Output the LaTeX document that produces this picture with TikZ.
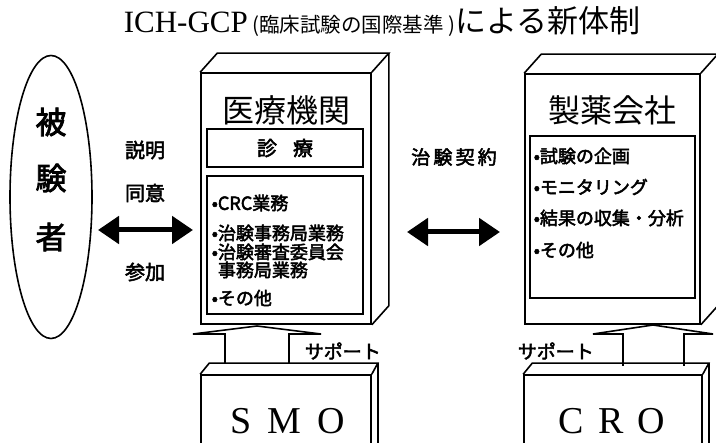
\documentclass[tikz,border=0pt]{standalone}
\usepackage{fontspec}
\setmainfont{Liberation Serif}
\newfontfamily\jp{Noto Sans CJK JP}[BoldFont={Noto Sans CJK JP}, BoldFeatures={FakeBold=2.6}]
\usetikzlibrary{shapes.geometric,arrows.meta,positioning,calc}

\begin{document}
\begin{tikzpicture}[x=1pt, y=-1pt, line width=1.6pt,
    every node/.style={inner sep=0pt},
    face/.style={draw, fill=white, rectangle},
    jpb/.style={font=\jp\bfseries\fontsize{#1}{#1}\selectfont},
    jpr/.style={font=\jp\fontsize{#1}{#1}\selectfont},
    dblarrow/.style={line width=5pt, {Triangle[length=21pt,width=27pt]}-{Triangle[length=21pt,width=27pt]}},
    support/.style={draw, fill=white, line join=miter}]
    \useasboundingbox (0,0) rectangle (716,443);
    \clip (0,0) rectangle (716,443);

    \node[anchor=base west] (title) at (123,33) {{\fontsize{31}{31}\selectfont ICH-GCP}{\jp\fontsize{20.5}{20.5}\selectfont\ (臨床試験の国際基準 )}{\jp\fontsize{31}{31}\selectfont による新体制}};

    \node[draw, ellipse, minimum width=82pt, minimum height=283pt] (subj) at (51,197) {};
    \foreach \y/\t in {122/被, 178/験, 237/者}
        \node[jpb=31] (subj\y) at (51,\y) {\t};
    \foreach \y/\t in {150/説明, 193/同意, 272/参加}
        \node[jpb=20] (lbl\y) at (145,\y) {\t};

    \node[face, minimum width=170pt, minimum height=251pt] (med) at (286,198.5) {};
    \draw (med.north west) -- ++(17,-19) -- ($(med.north east)+(17,-19)$) -- (med.north east);
    \draw ($(med.north east)+(17,-19)$) -- ($(med.south east)+(17,-19)$) -- (med.south east);
    \node[jpr=32] (medtitle) at (286,110) {医療機関};
    \node[face, minimum width=156pt, minimum height=38pt, jpb=20] (shin) at (285,148) {診\hspace{16pt}療};
    \node[face, minimum width=156pt, minimum height=138pt] (medlist) at (285,245) {};
    \foreach \y/\t in {203/•CRC業務, 233/•治験事務局業務, 252/•治験審査委員会, 270/\phantom{•}事務局業務, 298/•その他}
        \node[jpb=18, anchor=west] (m\y) at (211,\y) {\t};

    \node[face, minimum width=175pt, minimum height=250pt] (pha) at (612.5,199) {};
    \draw (pha.north west) -- ++(17,-19) -- ($(pha.north east)+(17,-19)$) -- (pha.north east);
    \draw ($(pha.north east)+(17,-19)$) -- ($(pha.south east)+(17,-19)$) -- (pha.south east);
    \node[jpr=32] (phatitle) at (612,110) {製薬会社};
    \node[face, minimum width=165pt, minimum height=162pt] (phalist) at (612.5,217) {};
    \foreach \y/\t in {156/•試験の企画, 187/•モニタリング, 218/•結果の収集・分析, 250/•その他}
        \node[jpb=18, anchor=west] (p\y) at (533,\y) {\t};

    \node[jpb=19] (contract) at (454,157) {治\,験\,契\,約};

    \coordinate (aL1) at (98,230);
    \coordinate (aL2) at (193,230);
    \coordinate (aR1) at (407,232);
    \coordinate (aR2) at (500,232);
    \draw[dblarrow] (aL1) -- (aL2);
    \draw[dblarrow] (aR1) -- (aR2);

    \draw[support] (225,364) |- (193,334) -- (257,326) -- (321,334) -| (289,364);
    \draw[support] (623,366) |- (593,334) -- (653,325) -- (713,334) -| (684,366);
    \node[jpb=19, anchor=west] (sup1) at (304,351) {サポート};
    \node[jpb=19, anchor=west] (sup2) at (517,351) {サポート};

    \node[face, minimum width=170pt, minimum height=100pt] (smo) at (286,425) {};
    \draw (smo.north west) -- ++(9,-11) -- ($(smo.north east)+(6,-11)$) -- (smo.north east);
    \draw ($(smo.north east)+(6,-11)$) -- ($(smo.south east)+(6,-11)$);
    \node[font=\fontsize{38}{38}\selectfont] (smotxt) at (288,421) {S\hspace{16pt}M\hspace{16pt}O};

    \node[face, minimum width=178pt, minimum height=100pt] (cro) at (613,425) {};
    \draw (cro.north west) -- ++(9,-11) -- ($(cro.north east)+(6,-11)$) -- (cro.north east);
    \draw ($(cro.north east)+(6,-11)$) -- ($(cro.south east)+(6,-11)$);
    \node[font=\fontsize{38}{38}\selectfont] (crotxt) at (612,421) {C\hspace{14pt}R\hspace{14pt}O};
\end{tikzpicture}
\end{document}
